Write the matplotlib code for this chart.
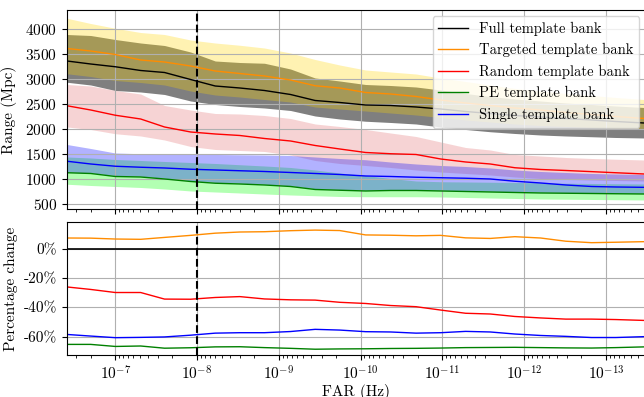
import numpy as np
import matplotlib
matplotlib.use("Agg")
import matplotlib.pyplot as plt

plt.rcParams["font.family"] = "serif"
plt.rcParams["font.serif"] = ["cmr10", "DejaVu Serif"]
plt.rcParams["mathtext.fontset"] = "cm"
plt.rcParams["axes.formatter.use_mathtext"] = True
plt.rcParams["axes.unicode_minus"] = False
plt.rcParams["font.size"] = 11

# false alarm rate grid (Hz)
far = [3.9e-7, 2.0e-7, 1.0e-7, 4.9e-8, 2.5e-8, 1.2e-8, 6.0e-9, 3.0e-9, 1.5e-9, 7.2e-10,
       3.6e-10, 1.8e-10, 8.7e-11, 4.3e-11, 2.1e-11, 1.05e-11, 5.2e-12, 2.6e-12, 1.3e-12,
       6.3e-13, 3.1e-13, 1.5e-13, 7.6e-14, 3.4e-14]

# ranges (Mpc)
full = [3360, 3300, 3245, 3170, 3130, 2990, 2860, 2820, 2770, 2690, 2570, 2530, 2480, 2470,
        2440, 2400, 2350, 2310, 2270, 2240, 2210, 2180, 2150, 2120]
full_hi = [3890, 3870, 3790, 3720, 3670, 3540, 3360, 3330, 3315, 3200, 3020, 2960, 2890, 2870,
           2840, 2780, 2710, 2650, 2600, 2560, 2520, 2490, 2460, 2430]
full_lo = [2935, 2880, 2770, 2740, 2690, 2560, 2490, 2450, 2420, 2370, 2260, 2200, 2155, 2130,
           2100, 2040, 1990, 1945, 1910, 1880, 1860, 1845, 1830, 1820]

targeted = [3610, 3560, 3490, 3380, 3340, 3260, 3160, 3110, 3060, 2980, 2865, 2820, 2730, 2700,
            2650, 2580, 2520, 2470, 2420, 2380, 2330, 2290, 2250, 2210]
targeted_hi = [4215, 4110, 4015, 3930, 3890, 3780, 3720, 3675, 3620, 3520, 3390, 3280, 3180, 3140,
               3100, 3020, 2950, 2880, 2810, 2760, 2710, 2670, 2630, 2590]
targeted_lo = [3105, 3050, 2970, 2930, 2880, 2760, 2680, 2640, 2590, 2540, 2440, 2400, 2360, 2320,
               2280, 2230, 2180, 2140, 2100, 2070, 2050, 2030, 2010, 1990]

random_ = [2465, 2380, 2275, 2200, 2040, 1940, 1900, 1870, 1810, 1760, 1670, 1600, 1530, 1505,
           1490, 1400, 1340, 1300, 1225, 1190, 1170, 1147, 1125, 1100]
random_hi = [2890, 2860, 2770, 2700, 2470, 2380, 2310, 2300, 2270, 2210, 2100, 2050, 1990, 1920,
             1850, 1740, 1630, 1580, 1490, 1460, 1430, 1410, 1395, 1380]
random_lo = [2040, 1990, 1905, 1860, 1780, 1650, 1590, 1570, 1550, 1480, 1370, 1310, 1270, 1230,
             1180, 1140, 1110, 1080, 1040, 1010, 990, 980, 970, 960]

pe = [1125, 1110, 1050, 1040, 1000, 950, 915, 900, 880, 850, 790, 775, 760, 770,
      770, 760, 750, 740, 730, 720, 715, 710, 705, 700]
pe_hi = [1440, 1420, 1390, 1370, 1350, 1330, 1310, 1285, 1260, 1230, 1180, 1120, 1070, 1010,
         960, 945, 940, 935, 930, 925, 915, 910, 905, 900]
pe_lo = [895, 870, 850, 830, 800, 760, 740, 720, 700, 680, 665, 650, 645, 645,
         645, 640, 630, 620, 610, 600, 595, 590, 585, 580]

single = [1355, 1300, 1255, 1235, 1220, 1195, 1180, 1165, 1150, 1130, 1110, 1090, 1060, 1050,
          1035, 1025, 1015, 1000, 955, 920, 880, 850, 840, 833]
single_hi = [1690, 1610, 1520, 1505, 1500, 1495, 1490, 1485, 1480, 1470, 1440, 1410, 1385, 1340,
             1300, 1270, 1250, 1220, 1180, 1150, 1130, 1110, 1100, 1090]
single_lo = [1140, 1120, 1070, 1055, 1015, 965, 930, 915, 895, 865, 805, 790, 775, 785,
             785, 775, 765, 755, 745, 735, 730, 725, 720, 715]

# percentage change relative to the full bank
pct_targeted = [7.5, 7.4, 6.8, 6.6, 7.9, 9.3, 10.8, 11.6, 11.8, 12.5, 12.9, 12.6, 9.6, 9.4,
                9.0, 9.3, 7.6, 7.2, 8.4, 7.5, 5.3, 4.3, 4.6, 5.0]
pct_random = [-26.0, -27.7, -29.8, -29.8, -34.3, -34.4, -33.2, -32.6, -34.2, -34.8, -35.0, -36.5,
              -37.3, -38.7, -39.5, -41.8, -44.0, -44.5, -46.2, -47.2, -48.0, -48.0, -48.3, -48.9]
pct_pe = [-65.3, -65.3, -66.7, -66.4, -67.9, -67.6, -67.0, -66.9, -67.5, -68.0, -68.6, -68.4,
          -68.3, -68.1, -68.0, -67.8, -67.5, -67.4, -67.3, -67.5, -67.7, -67.8, -67.5, -67.0]
pct_single = [-58.5, -59.6, -60.7, -60.5, -60.2, -59.0, -57.6, -57.3, -57.3, -56.5, -55.0, -55.5,
              -56.6, -56.8, -57.6, -57.3, -56.4, -56.8, -58.2, -59.2, -59.8, -60.6, -60.6, -60.0]

far_line = 1e-8

fig = plt.figure(figsize=(6.44, 3.97), dpi=100)
ax = fig.add_axes([0.104, 0.4736, 0.898, 0.5012])
ax2 = fig.add_axes([0.104, 0.106, 0.898, 0.335], sharex=ax)

ax.fill_between(far, full_lo, full_hi, color="black", alpha=0.5, lw=0)
ax.fill_between(far, targeted_lo, targeted_hi, color="gold", alpha=0.3, lw=0)
ax.fill_between(far, random_lo, random_hi, color="tab:red", alpha=0.2, lw=0)
ax.fill_between(far, pe_lo, pe_hi, color="lime", alpha=0.3, lw=0)
ax.fill_between(far, single_lo, single_hi, color="blue", alpha=0.3, lw=0)

ax.plot(far, full, color="black", lw=1, label="Full template bank")
ax.plot(far, targeted, color="darkorange", lw=1, label="Targeted template bank")
ax.plot(far, random_, color="red", lw=1, label="Random template bank")
ax.plot(far, pe, color="green", lw=1, label="PE template bank")
ax.plot(far, single, color="blue", lw=1, label="Single template bank")
ax.axvline(far_line, color="black", ls="--", lw=1.5)

ax.set_xscale("log")
ax.set_xlim(3.9e-7, 3.3e-14)
ax.set_ylim(400, 4380)
ax.set_yticks([500, 1000, 1500, 2000, 2500, 3000, 3500, 4000])
ax.set_ylabel("Range (Mpc)", labelpad=6)
ax.grid(True, which="major", color="#b0b0b0", lw=0.8)
ax.tick_params(labelbottom=False)
ax.spines["right"].set_visible(False)
ax.legend(loc="upper right", fontsize=10.5, framealpha=0.8, borderaxespad=0.4)

ax2.plot(far, pct_targeted, color="darkorange", lw=1)
ax2.plot(far, pct_random, color="red", lw=1)
ax2.plot(far, pct_pe, color="green", lw=1)
ax2.plot(far, pct_single, color="blue", lw=1)
ax2.axhline(0, color="black", lw=1.2)
ax2.axvline(far_line, color="black", ls="--", lw=1.5)
ax2.set_ylim(-72.5, 18.5)
ax2.set_yticks([-60, -40, -20, 0])
ax2.set_yticklabels(["-60%", "-40%", "-20%", "0%"])
ax2.set_ylabel("Percentage change", labelpad=4)
ax2.set_xlabel("FAR (Hz)", labelpad=1)
ax2.grid(True, which="major", color="#b0b0b0", lw=0.8)
ax2.spines["right"].set_visible(False)

fig.savefig("out.png", dpi=100)
